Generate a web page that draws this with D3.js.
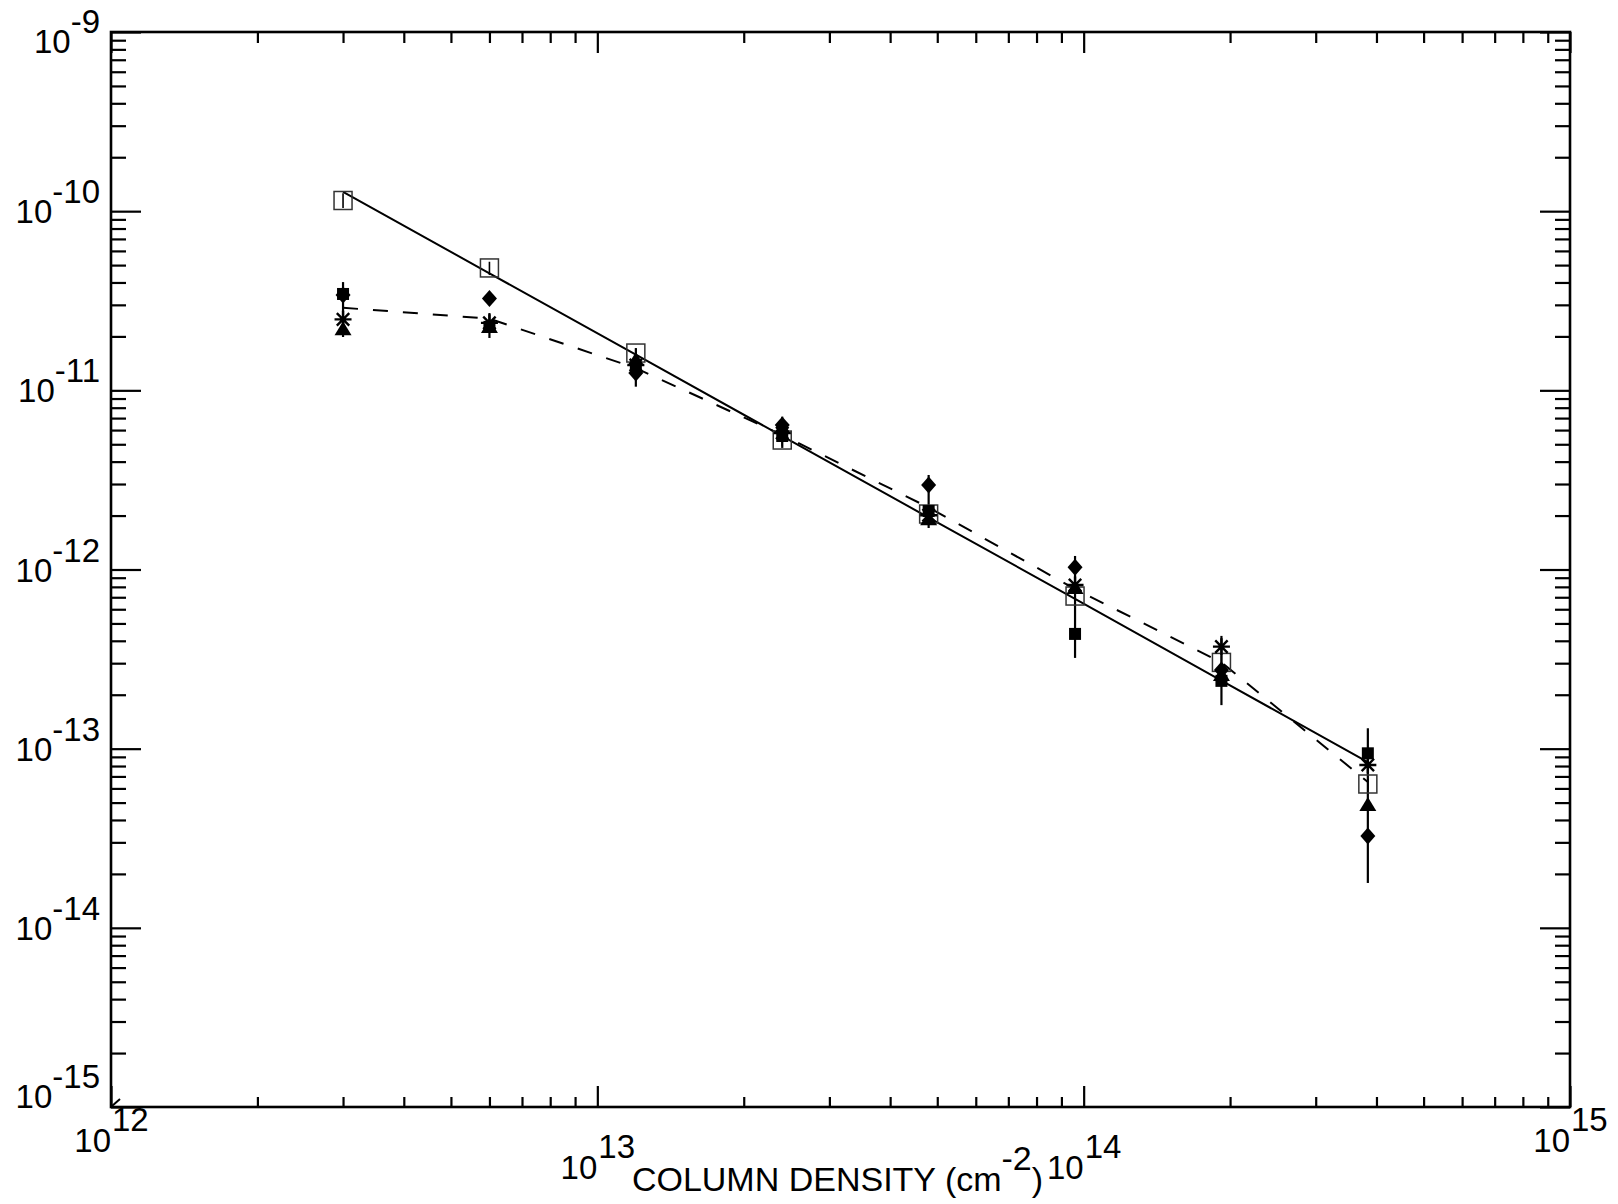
<!DOCTYPE html>
<html>
<head>
<meta charset="utf-8">
<script src="https://cdn.jsdelivr.net/npm/d3@7"></script>
<style>
  html, body { margin: 0; padding: 0; background: #fff; }
  svg { display: block; }
  text { font-family: "Liberation Sans", Arial, Helvetica, sans-serif; fill: #000; }
</style>
</head>
<body>
<svg id="chart" width="1618" height="1204"></svg>
<script>
// ---------------- data ----------------
const columnDensity = [3.0e12, 6.0e12, 1.2e13, 2.4e13, 4.8e13, 9.6e13, 1.92e14, 3.84e14];
const fitSolid      = [1.28e-10, 4.5e-11, 1.58e-11, 5.55e-12, 1.95e-12, 6.85e-13, 2.40e-13, 8.4e-14];
const modelDashed   = [2.89e-11, 2.51e-11, 1.33e-11, 5.63e-12, 2.22e-12, 7.78e-13, 3.03e-13, 6.52e-14];
const openSquares   = [1.147e-10, 4.82e-11, 1.615e-11, 5.28e-12, 2.04e-12, 7.11e-13, 3.03e-13, 6.35e-14];
const openSqErrLo   = [1.04e-10, 4.40e-11, 1.50e-11, 4.9e-12, 1.9e-12, 6.6e-13, 2.8e-13, 5.9e-14];
const openSqErrHi   = [1.26e-10, 5.22e-11, 1.72e-11, 5.7e-12, 2.2e-12, 7.6e-13, 3.3e-13, 6.8e-14];
const filledSquares = [3.45e-11, 2.26e-11, 1.33e-11, 5.56e-12, 2.12e-12, 4.37e-13, 2.39e-13, 9.42e-14];
const diamonds      = [3.4e-11, 3.26e-11, 1.25e-11, 6.40e-12, 2.96e-12, 1.028e-12, 2.75e-13, 3.26e-14];
const triangles     = [2.19e-11, 2.26e-11, 1.476e-11, 6.16e-12, 1.91e-12, 7.88e-13, 2.58e-13, 4.85e-14];
const asterisks     = [2.49e-11, 2.38e-11, 1.385e-11, 5.78e-12, 2.01e-12, 8.19e-13, 3.71e-13, 8.11e-14];
const errLo         = [1.985e-11, 1.96e-11, 1.048e-11, 4.77e-12, 1.705e-12, 3.21e-13, 1.75e-13, 1.78e-14];
const errHi         = [4.02e-11, 2.70e-11, 1.72e-11, 7.13e-12, 3.37e-12, 1.19e-12, 4.26e-13, 1.30e-13];

const xDecades = [1e12, 1e13, 1e14, 1e15];
const xExponents = ["12", "13", "14", "15"];
const yDecades = [1e-9, 1e-10, 1e-11, 1e-12, 1e-13, 1e-14, 1e-15];
const yExponents = ["-9", "-10", "-11", "-12", "-13", "-14", "-15"];
const xTitle = "COLUMN DENSITY (cm";
const xTitleSup = "-2";

// ---------------- layout ----------------
const L = 111, R = 1570, T = 32, B = 1107;
const svg = d3.select("#chart");
const x = d3.scaleLog().domain([1e12, 1e15]).range([L, R]);
const y = d3.scaleLog().domain([1e-15, 1e-9]).range([B, T]);

function minors(decades) {
  const out = [];
  for (let i = 0; i < decades.length - 1; i++) {
    const lo = Math.min(decades[i], decades[i + 1]);
    for (let k = 2; k <= 9; k++) out.push(lo * k);
  }
  return out;
}
const xMinor = minors(xDecades);
const yMinor = minors(yDecades);

function styleAxis(g) {
  g.select(".domain").remove();
  g.selectAll(".tick line").attr("stroke", "#000").attr("stroke-width", 2.2);
  g.selectAll(".tick text").remove();
}

// bottom
svg.append("g").attr("transform", `translate(0,${B})`)
  .call(d3.axisBottom(x).tickValues(xMinor).tickSize(-10).tickFormat("")).call(styleAxis);
svg.append("g").attr("transform", `translate(0,${B})`)
  .call(d3.axisBottom(x).tickValues(xDecades).tickSize(-21).tickFormat("")).call(styleAxis);
// top
svg.append("g").attr("transform", `translate(0,${T})`)
  .call(d3.axisTop(x).tickValues(xMinor).tickSize(-11).tickFormat("")).call(styleAxis);
svg.append("g").attr("transform", `translate(0,${T})`)
  .call(d3.axisTop(x).tickValues(xDecades).tickSize(-21).tickFormat("")).call(styleAxis);
// left
svg.append("g").attr("transform", `translate(${L},0)`)
  .call(d3.axisLeft(y).tickValues(yMinor).tickSize(-15).tickFormat("")).call(styleAxis);
svg.append("g").attr("transform", `translate(${L},0)`)
  .call(d3.axisLeft(y).tickValues(yDecades).tickSize(-30).tickFormat("")).call(styleAxis);
// right
svg.append("g").attr("transform", `translate(${R},0)`)
  .call(d3.axisRight(y).tickValues(yMinor).tickSize(-15).tickFormat("")).call(styleAxis);
svg.append("g").attr("transform", `translate(${R},0)`)
  .call(d3.axisRight(y).tickValues(yDecades).tickSize(-30).tickFormat("")).call(styleAxis);

// frame
svg.append("rect").attr("x", L).attr("y", T).attr("width", R - L).attr("height", B - T)
  .attr("fill", "none").attr("stroke", "#000").attr("stroke-width", 2.6);
// small corner mark
svg.append("path").attr("d", `M${L + 1},${B - 1} L${L + 9},${B - 8}`)
  .attr("stroke", "#000").attr("stroke-width", 2).attr("fill", "none");

// ---------------- tick labels ----------------
const FS = 33;
yDecades.forEach((v, i) => {
  const off = i === 0 ? 21 : (i === yDecades.length - 1 ? 1 : 12);
  const t = svg.append("text").attr("x", 100).attr("y", y(v) + off)
    .attr("text-anchor", "end").attr("font-size", FS);
  t.append("tspan").text("10");
  t.append("tspan").attr("dy", -20).text(yExponents[i]);
});
xDecades.forEach((v, i) => {
  const base = (i === 0 || i === xDecades.length - 1) ? 1152 : 1179;
  svg.append("text").attr("x", x(v)).attr("y", base)
    .attr("text-anchor", "end").attr("font-size", FS).text("10");
  svg.append("text").attr("x", x(v) + 1).attr("y", base - 21)
    .attr("text-anchor", "start").attr("font-size", FS).text(xExponents[i]);
});
// axis title
const tt = svg.append("text").attr("x", (L + R) / 2 - 3).attr("y", 1191)
  .attr("text-anchor", "middle").attr("font-size", 34);
tt.append("tspan").text(xTitle);
tt.append("tspan").attr("dy", -21).text(xTitleSup);
tt.append("tspan").attr("dy", 21).text(")");

// ---------------- lines ----------------
const line = d3.line().x((d, i) => x(columnDensity[i])).y(d => y(d));
svg.append("path").datum(fitSolid).attr("d", line)
  .attr("fill", "none").attr("stroke", "#000").attr("stroke-width", 2);
svg.append("path").datum(modelDashed).attr("d", line)
  .attr("fill", "none").attr("stroke", "#000").attr("stroke-width", 2)
  .attr("stroke-dasharray", "15,15");

// ---------------- error bars ----------------
svg.append("g").selectAll("line").data(columnDensity).join("line")
  .attr("x1", d => x(d)).attr("x2", d => x(d))
  .attr("y1", (d, i) => y(errLo[i])).attr("y2", (d, i) => y(errHi[i]))
  .attr("stroke", "#000").attr("stroke-width", 2.2);
svg.append("g").selectAll("line").data(columnDensity).join("line")
  .attr("x1", d => x(d)).attr("x2", d => x(d))
  .attr("y1", (d, i) => y(openSqErrLo[i])).attr("y2", (d, i) => y(openSqErrHi[i]))
  .attr("stroke", "#000").attr("stroke-width", 1.6);

// ---------------- markers ----------------
const pts = arr => arr.map((v, i) => ({ cx: x(columnDensity[i]), cy: y(v) }));

// open squares
svg.append("g").selectAll("rect").data(pts(openSquares)).join("rect")
  .attr("x", d => d.cx - 9).attr("y", d => d.cy - 9).attr("width", 18).attr("height", 18)
  .attr("fill", "none").attr("stroke", "#333").attr("stroke-width", 1.5);
// filled squares
svg.append("g").selectAll("rect").data(pts(filledSquares)).join("rect")
  .attr("x", d => d.cx - 6).attr("y", d => d.cy - 6).attr("width", 12).attr("height", 12)
  .attr("fill", "#000");
// diamonds
svg.append("g").selectAll("path").data(pts(diamonds)).join("path")
  .attr("d", d => `M${d.cx},${d.cy - 8.5} L${d.cx + 7.5},${d.cy} L${d.cx},${d.cy + 8.5} L${d.cx - 7.5},${d.cy} Z`)
  .attr("fill", "#000");
// triangles
svg.append("g").selectAll("path").data(pts(triangles)).join("path")
  .attr("d", d => `M${d.cx},${d.cy - 8} L${d.cx + 8.5},${d.cy + 6} L${d.cx - 8.5},${d.cy + 6} Z`)
  .attr("fill", "#000");
// asterisks
svg.append("g").selectAll("path").data(pts(asterisks)).join("path")
  .attr("d", d => {
    const r = 8.5, q = 6.2;
    return `M${d.cx - r},${d.cy} L${d.cx + r},${d.cy} M${d.cx},${d.cy - r} L${d.cx},${d.cy + r}` +
           `M${d.cx - q},${d.cy - q} L${d.cx + q},${d.cy + q} M${d.cx - q},${d.cy + q} L${d.cx + q},${d.cy - q}`;
  })
  .attr("fill", "none").attr("stroke", "#000").attr("stroke-width", 2.4);
</script>
</body>
</html>
